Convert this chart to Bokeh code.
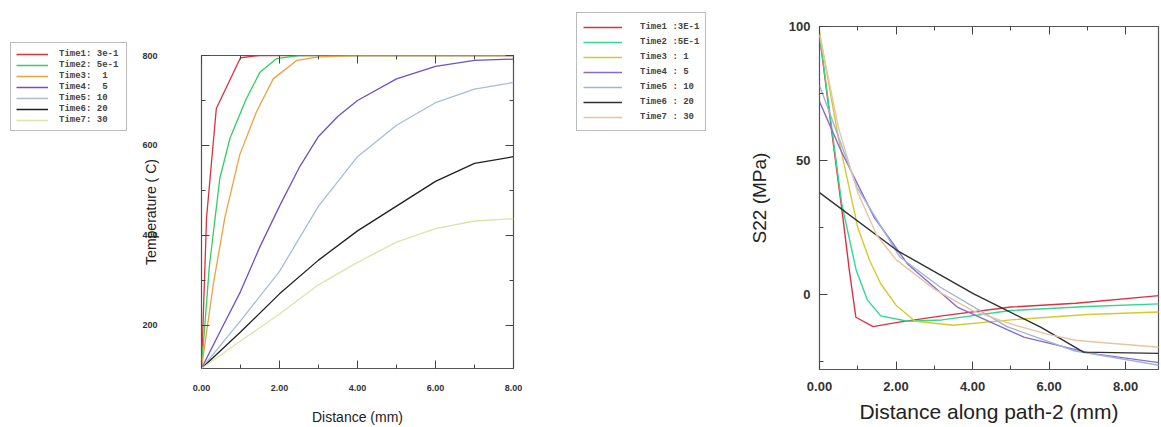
from bokeh.plotting import figure
from bokeh.models import (Legend, LegendItem, LinearAxis, FixedTicker, Range1d,
                          NumeralTickFormatter)
from bokeh.layouts import row
from bokeh.embed import file_html
from bokeh.resources import INLINE

# ---------------- data: temperature vs distance ----------------
temp_labels = ["Time1: 3e-1", "Time2: 5e-1", "Time3:  1", "Time4:  5",
               "Time5: 10", "Time6: 20", "Time7: 30"]
temp_colors = ["#e0303a", "#30d060", "#f0a040", "#7050c8", "#a8bcd8", "#202020", "#dce4a8"]

t1_x = [0, 0.13, 0.38, 1.0, 1.5, 2.0, 4.0, 6.0, 8.0]
t1_y = [104, 440, 682, 795, 800, 800, 800, 800, 800]
t2_x = [0, 0.2, 0.47, 0.73, 1.15, 1.5, 1.92, 2.5, 4.0, 8.0]
t2_y = [104, 330, 527, 616, 704, 763, 793, 800, 800, 800]
t3_x = [0, 0.3, 0.6, 0.98, 1.41, 1.84, 2.44, 3.0, 4.0, 8.0]
t3_y = [104, 290, 440, 579, 675, 748, 789, 797, 800, 800]
t4_x = [0, 0.5, 1.0, 1.5, 2.0, 2.5, 3.0, 3.5, 4.0, 5.0, 6.0, 7.0, 8.0]
t4_y = [104, 190, 275, 375, 465, 550, 620, 665, 700, 748, 776, 789, 792]
t5_x = [0, 1, 2, 3, 4, 5, 6, 7, 8]
t5_y = [104, 210, 320, 465, 575, 645, 695, 725, 740]
t6_x = [0, 1, 2, 3, 4, 5, 6, 7, 8]
t6_y = [104, 185, 270, 345, 410, 465, 520, 560, 575]
t7_x = [0, 1, 2, 3, 4, 5, 6, 7, 8]
t7_y = [104, 165, 225, 290, 340, 385, 415, 432, 437]

# ---------------- data: S22 vs distance along path-2 ----------------
s22_labels = ["Time1 :3E-1", "Time2 :5E-1", "Time3 : 1", "Time4 : 5",
              "Time5 : 10", "Time6 : 20", "Time7 : 30"]
s22_colors = ["#e03040", "#30d890", "#d8c830", "#8868d8", "#a0b4d4", "#303030", "#e8c4a4"]

r1_x = [0, 0.3, 0.6, 0.78, 0.95, 1.4, 2.0, 3.2, 5.0, 6.7, 8.9]
r1_y = [97, 63, 30, 9, -8.5, -12, -10.5, -8, -4.7, -3.3, -0.4]
r2_x = [0, 0.58, 0.96, 1.25, 1.6, 2.3, 3.2, 5.0, 7.0, 8.9]
r2_y = [97, 34, 9, -2, -8, -10, -9.5, -6, -4.5, -3.5]
r3_x = [0, 0.5, 1.0, 1.31, 1.6, 2.0, 2.5, 3.5, 5.0, 7.0, 8.9]
r3_y = [98, 58, 25, 12.7, 4, -4, -10, -11.5, -9.5, -7.5, -6.5]
r4_x = [0, 0.55, 1.42, 2.3, 3.6, 5.34, 7.1, 8.9]
r4_y = [72, 54, 29, 11.4, -4.7, -15.9, -22, -25.5]
r5_x = [0, 0.98, 2.1, 3.16, 4.9, 6.65, 8.9]
r5_y = [78, 40, 14, 2.7, -12, -21, -26.5]
r6_x = [0, 2.03, 4.03, 5.78, 6.9, 8.9]
r6_y = [38, 16.4, 0.2, -12.2, -21.5, -22]
r7_x = [0, 0.5, 1.0, 1.5, 2.0, 3.0, 4.0, 5.0, 6.0, 6.73, 8.9]
r7_y = [97, 62, 38, 22, 13, 2, -6, -11, -15, -17.2, -19.7]

FONT = "Liberation Sans"
MONO = "Liberation Mono"
H = 427


def style_axis(ax, size, label_size):
    ax.major_tick_in = 8
    ax.major_tick_out = 0
    ax.minor_tick_in = 4
    ax.minor_tick_out = 0
    ax.axis_line_color = None
    ax.major_tick_line_color = "#444"
    ax.minor_tick_line_color = "#444"
    ax.major_label_text_font = FONT
    ax.major_label_text_font_style = "bold"
    ax.major_label_text_font_size = size
    ax.major_label_text_color = "#333"
    ax.axis_label_text_font = FONT
    ax.axis_label_text_font_style = "normal"
    ax.axis_label_text_font_size = label_size
    ax.axis_label_text_color = "#222"


def mirror_axis(p, ticker, place):
    ax = LinearAxis(ticker=ticker)
    style_axis(ax, "0px", "0px")
    ax.major_label_text_alpha = 0
    ax.major_label_standoff = 0
    p.add_layout(ax, place)


def legend_figure(width, labels, colors, series, left, top, **kw):
    # the legend lives in its own narrow figure; its proxy lines use the real
    # series but sit outside this figure's (far away) ranges, so only the
    # legend is visible
    lf = figure(width=width, height=H, output_backend="svg", toolbar_location=None,
                x_range=Range1d(1000, 1001), y_range=Range1d(1000, 1001),
                x_axis_type=None, y_axis_type=None, frame_align=False,
                min_border_left=left, min_border_top=top,
                min_border_right=0, min_border_bottom=0)
    lf.title.visible = False
    lf.grid.visible = False
    lf.outline_line_color = None
    items = []
    for (xs, ys), c, lab in zip(series, colors, labels):
        r = lf.line(xs, ys, line_color=c, line_width=1.5)
        items.append(LegendItem(label=lab, renderers=[r]))
    leg = Legend(items=items, location="top_left", orientation="vertical",
                 label_text_font=MONO, label_text_font_style="bold",
                 label_text_font_size="9px", label_text_color="#444",
                 spacing=0, margin=0,
                 border_line_color="#777", border_line_width=1.5,
                 background_fill_color="white", background_fill_alpha=1, **kw)
    lf.add_layout(leg, "center")
    return lf


left_series = [(t1_x, t1_y), (t2_x, t2_y), (t3_x, t3_y), (t4_x, t4_y),
               (t5_x, t5_y), (t6_x, t6_y), (t7_x, t7_y)]
right_series = [(r1_x, r1_y), (r2_x, r2_y), (r3_x, r3_y), (r4_x, r4_y),
                (r5_x, r5_y), (r6_x, r6_y), (r7_x, r7_y)]

# ---------------- left legend ----------------
lf1 = legend_figure(140, temp_labels, temp_colors, left_series, 10, 42,
                    label_height=11, glyph_height=8, glyph_width=32,
                    label_standoff=11, label_width=62, padding=5)

# ---------------- left figure ----------------
p1 = figure(width=408, height=H, output_backend="svg", toolbar_location=None,
            x_range=Range1d(0, 8), y_range=Range1d(104, 800), frame_align=False,
            min_border_left=61, min_border_right=35, min_border_top=55,
            min_border_bottom=58)
p1.grid.visible = False
p1.outline_line_color = "#555"
p1.outline_line_width = 1.2

xt1 = FixedTicker(ticks=[0, 2, 4, 6, 8], minor_ticks=[1, 3, 5, 7])
yt1 = FixedTicker(ticks=[200, 400, 600, 800], minor_ticks=[300, 500, 700])
p1.xaxis.ticker = xt1
p1.yaxis.ticker = yt1
p1.xaxis.formatter = NumeralTickFormatter(format="0.00")
p1.xaxis.axis_label = "Distance (mm)"
p1.yaxis.axis_label = "Temperature ( C)"
style_axis(p1.xaxis[0], "9px", "14px")
style_axis(p1.yaxis[0], "9px", "14px")
p1.yaxis.major_label_standoff = 44
p1.yaxis.axis_label_standoff = -20
p1.xaxis.major_label_standoff = 16
p1.xaxis.axis_label_standoff = 15
mirror_axis(p1, xt1, "above")
mirror_axis(p1, yt1, "right")

for (xs, ys), c in zip(left_series, temp_colors):
    p1.line(xs, ys, line_color=c, line_width=1.3)

# ---------------- right legend ----------------
lf2 = legend_figure(172, s22_labels, s22_colors, right_series, 28, 12,
                    label_height=15, glyph_height=10, glyph_width=39,
                    label_standoff=18, label_width=58, padding=6)

# ---------------- right figure ----------------
p2 = figure(width=441, height=H, output_backend="svg", toolbar_location=None,
            x_range=Range1d(0, 8.86), y_range=Range1d(-28, 100), frame_align=False,
            min_border_left=99, min_border_right=3, min_border_top=26,
            min_border_bottom=58)
p2.grid.visible = False
p2.outline_line_color = "#555"
p2.outline_line_width = 1.2

xt2 = FixedTicker(ticks=[0, 2, 4, 6, 8], minor_ticks=[1, 3, 5, 7])
yt2 = FixedTicker(ticks=[0, 50, 100], minor_ticks=[-25, 25, 75])
p2.xaxis.ticker = xt2
p2.yaxis.ticker = yt2
p2.xaxis.formatter = NumeralTickFormatter(format="0.00")
p2.xaxis.axis_label = "Distance along path-2 (mm)"
p2.yaxis.axis_label = "S22 (MPa)"
style_axis(p2.xaxis[0], "13px", "21px")
style_axis(p2.yaxis[0], "13px", "19px")
p2.yaxis.major_label_standoff = 9
p2.yaxis.axis_label_standoff = 16
p2.xaxis.major_label_standoff = 12
p2.xaxis.axis_label_standoff = 6
mirror_axis(p2, xt2, "above")

for (xs, ys), c in zip(right_series, s22_colors):
    p2.line(xs, ys, line_color=c, line_width=1.4)

layout = row(lf1, p1, lf2, p2)
open("out.html", "w").write(file_html(layout, INLINE))
